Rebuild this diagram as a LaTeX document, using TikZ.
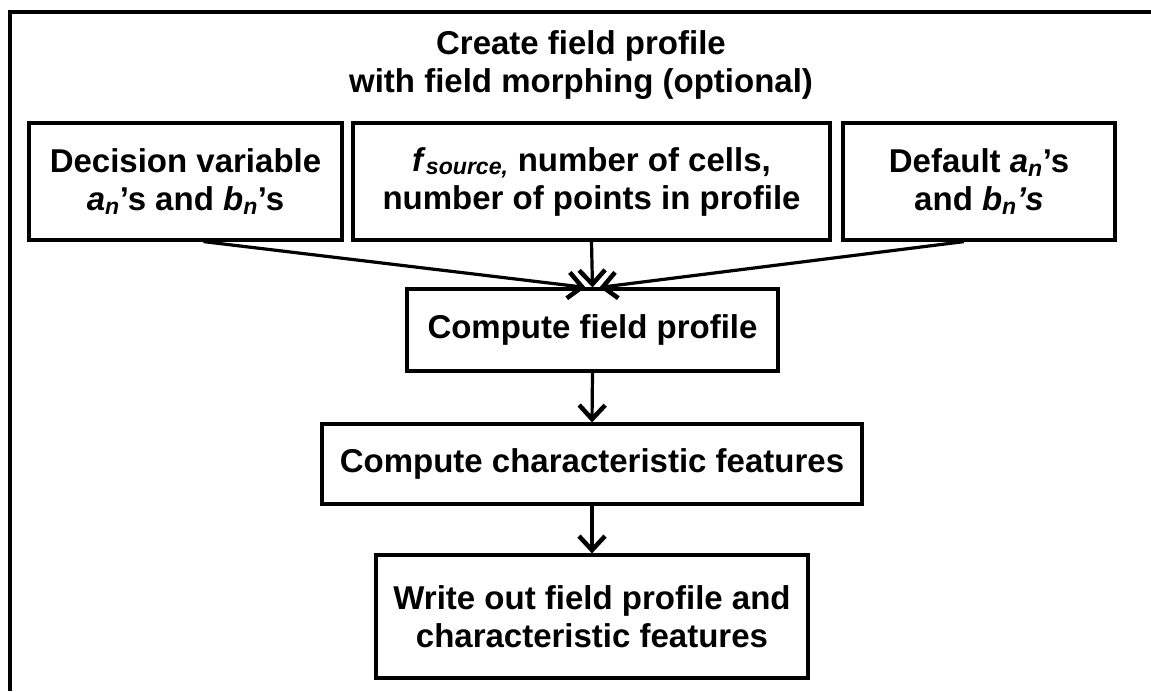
\documentclass[tikz,border=0pt]{standalone}
\usepackage{fontspec}
\setmainfont{Liberation Sans}
\usetikzlibrary{arrows.meta}
\newcommand\sbx[1]{\textsubscript{\textit{#1}}}
\begin{document}
\begin{tikzpicture}[x=1pt,y=-1pt,
  every node/.style={font=\fontsize{33}{38}\selectfont\bfseries},
  box/.style={draw,line width=3.2pt,inner sep=0pt,align=center},
  arr/.style={line width=3.2pt,-{Straight Barb[length=14pt,width=26pt,line width=4.5pt]}}]
\useasboundingbox (0,0) rectangle (1151,691);
\draw[line width=3.5pt] (1151,12) -- (10,12) -- (10,691);
\node[align=center] (title) at (581,65) {Create field profile\\with field morphing (optional)};
\node[box,minimum width=313pt,minimum height=117pt] (b1) at (185.5,181.5)
  {Decision variable\\\textit{a}\sbx{n}’s and \textit{b}\sbx{n}’s};
\node[box,minimum width=477pt,minimum height=117pt] (b2) at (591.5,181.5)
  {\textit{f}\sbx{source,} number of cells,\\number of points in profile};
\node[box,minimum width=272pt,minimum height=117pt] (b3) at (979,181.5)
  {Default \textit{a}\sbx{n}’s\\and \textit{b}\sbx{n}\textit{’s}};
\node[box,minimum width=371pt,minimum height=82pt] (b4) at (592.5,330)
  {Compute field profile};
\node[box,minimum width=540pt,minimum height=80pt] (b5) at (592,464)
  {Compute characteristic features};
\node[box,minimum width=432pt,minimum height=123pt] (b6) at (592,616.5)
  {Write out field profile and\\characteristic features};
\draw[arr] ([xshift=18pt]b1.south) -- ([xshift=-7pt]b4.north);
\draw[arr] ([xshift=-15pt]b3.south) -- ([xshift=7pt]b4.north);
\draw[arr] (b2.south) -- (b4.north);
\draw[arr] (b4.south) -- (b5.north);
\draw[arr] (b5.south) -- (b6.north);
\end{tikzpicture}
\end{document}
